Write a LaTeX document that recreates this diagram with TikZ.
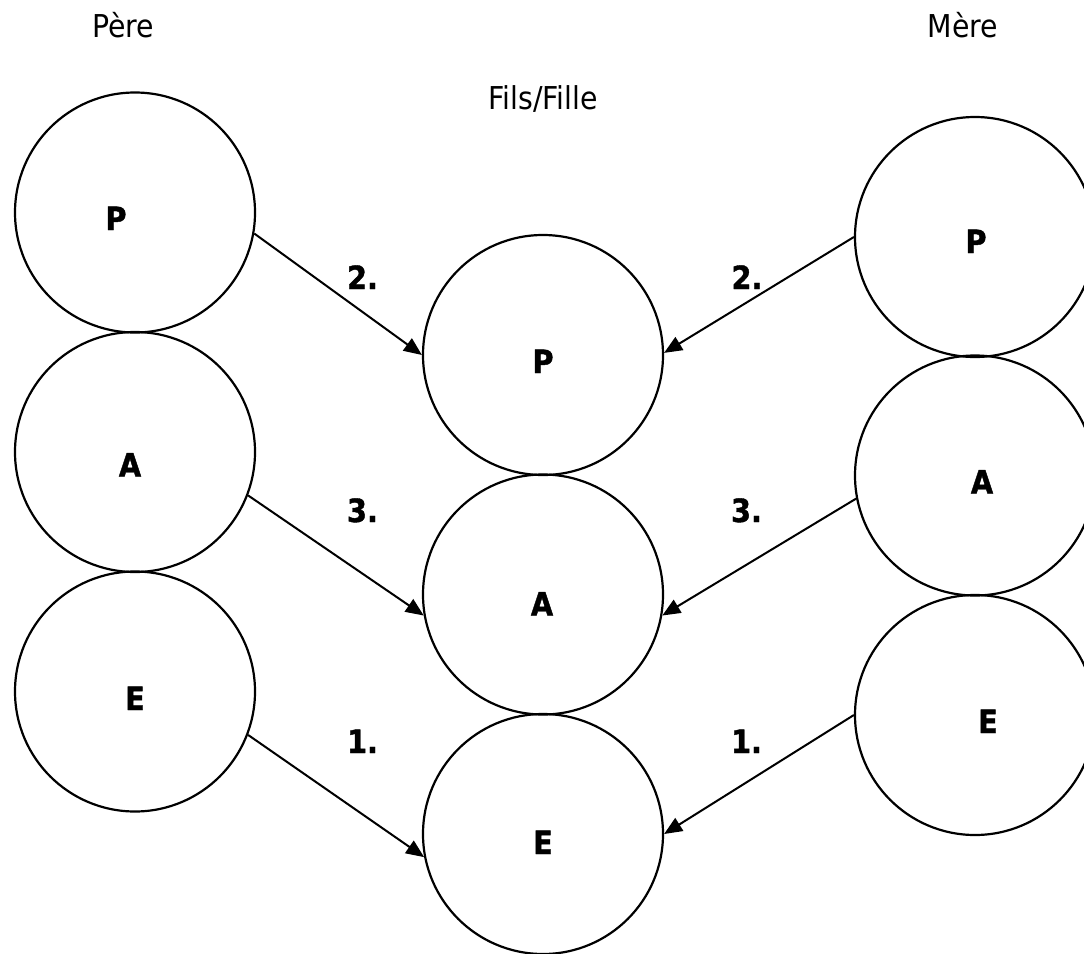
\documentclass[tikz,border=0pt]{standalone}
\usepackage{fontspec}
\setmainfont{DejaVu Sans Condensed}
\newfontfamily\heavyfont{DejaVu Sans Condensed Bold}[FakeBold=1.2]
\usetikzlibrary{arrows.meta}
\tikzset{
  trait/.style={circle, draw, line width=2.2pt, minimum size=240pt, inner sep=0pt},
  letter/.style={font=\fontsize{32}{34}\heavyfont, anchor=base, inner sep=0pt},
  rank/.style={font=\fontsize{32}{34}\heavyfont, anchor=base, inner sep=0pt},
  heading/.style={font=\fontsize{31.5}{34}\selectfont, anchor=base, inner sep=0pt},
  link/.style={line width=2pt, -{Triangle[length=18pt, width=15pt]}}
}
\begin{document}
\begin{tikzpicture}[x=1pt, y=-1pt]
  \useasboundingbox (0,0) rectangle (1084,953);

  % headings
  \node[heading] (pere) at (123,37) {Père};
  \node[heading] (mere) at (963,37) {Mère};
  \node[heading] (enfant) at (543,109) {Fils/Fille};

  % father
  \node[trait] (fp) at (135,212.5) {};
  \node[trait] (fa) at (135,452) {};
  \node[trait] (fe) at (135,691.5) {};
  % child
  \node[trait] (cp) at (543,355) {};
  \node[trait] (ca) at (543,594.5) {};
  \node[trait] (ce) at (543,834) {};
  % mother
  \node[trait] (mp) at (975,237) {};
  \node[trait] (ma) at (975,475.5) {};
  \node[trait] (me) at (975,715) {};

  % letters inside the circles
  \node[letter] (fpl) at (116,230) {P};
  \node[letter] (fal) at (130,476.5) {A};
  \node[letter] (fel) at (135,710) {E};
  \node[letter] (cpl) at (543,373) {P};
  \node[letter] (cal) at (542,615.5) {A};
  \node[letter] (cel) at (543,854) {E};
  \node[letter] (mpl) at (976,253) {P};
  \node[letter] (mal) at (982,493.5) {A};
  \node[letter] (mel) at (988,733) {E};

  % inheritance arrows
  \draw[link] (fp.-10.6) -- (cp.180);
  \draw[link] (fa.-21.4) -- (ca.190.6);
  \draw[link] (fe.-21.8) -- (ce.191.3);
  \draw[link] (mp.180) -- (cp.1);
  \draw[link] (ma.191.5) -- (ca.-10.5);
  \draw[link] (me.180) -- (ce.0);

  % order labels
  \node[rank] (r2l) at (362.5,289) {2.};
  \node[rank] (r2r) at (747,289) {2.};
  \node[rank] (r3l) at (362.5,522) {3.};
  \node[rank] (r3r) at (746.5,522) {3.};
  \node[rank] (r1l) at (362.5,753) {1.};
  \node[rank] (r1r) at (746.5,753) {1.};
\end{tikzpicture}
\end{document}
